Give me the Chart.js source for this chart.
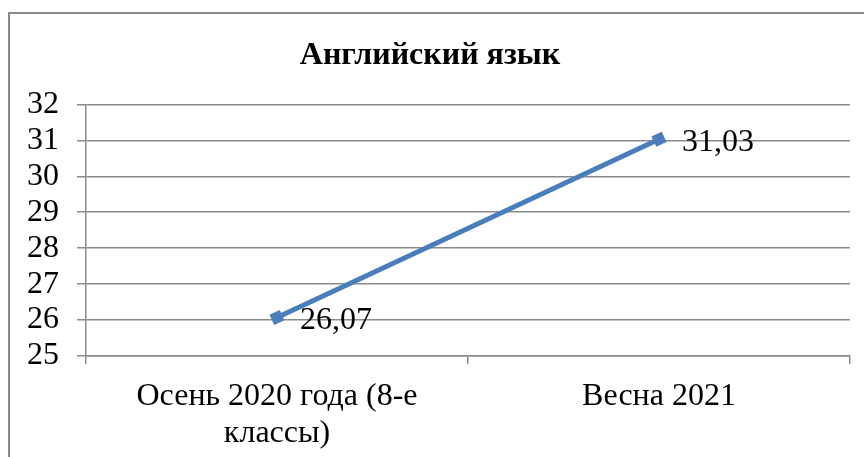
<!DOCTYPE html>
<html>
<head>
<meta charset="utf-8">
<script src="https://cdn.jsdelivr.net/npm/chart.js@4/dist/chart.umd.min.js"></script>
<style>
  html, body { margin: 0; padding: 0; background: #fff; }
  #wrap { position: relative; width: 864px; height: 457px; overflow: hidden; }
  #frame { position: absolute; left: 8px; top: 12px; width: 900px; height: 500px;
           border: 2px solid #8a8a8a; box-sizing: border-box; pointer-events: none; }
  canvas { position: absolute; left: 0; top: 0; }
</style>
</head>
<body>
<div id="wrap">
  <canvas id="c" width="864" height="457"></canvas>
  <div id="frame"></div>
</div>
<script>
const categories = [["Осень 2020 года (8-е", "классы)"], "Весна 2021"];
const values = [26.07, 31.03];
const valueLabels = ["26,07", "31,03"];
const yMin = 25, yMax = 32, yStep = 1;
const titleText = "Английский язык";

const FONT = "'Liberation Serif', 'Times New Roman', serif";

const labelPlugin = {
  id: 'valueLabels',
  afterDatasetsDraw(chart) {
    const ctx = chart.ctx;
    const meta = chart.getDatasetMeta(0);
    ctx.save();
    ctx.font = "32px " + FONT;
    ctx.fillStyle = "#000";
    ctx.textAlign = "left";
    ctx.textBaseline = "middle";
    meta.data.forEach((pt, i) => {
      ctx.fillText(valueLabels[i], pt.x + 23, pt.y + 3);
    });
    ctx.restore();
  }
};

new Chart(document.getElementById('c'), {
  type: 'line',
  data: {
    labels: categories,
    datasets: [{
      data: values,
      borderColor: '#4a7ebb',
      backgroundColor: '#4a7ebb',
      borderWidth: 5,
      pointStyle: 'rect',
      pointRadius: 8,
      pointRotation: -25,
      pointBorderWidth: 0,
      tension: 0
    }]
  },
  options: {
    responsive: false,
    animation: false,
    devicePixelRatio: 1,
    layout: { padding: { left: 10, right: 14, top: 0, bottom: 0 } },
    plugins: {
      legend: { display: false },
      tooltip: { enabled: false },
      title: {
        display: true,
        text: titleText,
        color: '#000',
        font: { family: FONT, size: 32, weight: 'bold' },
        padding: { top: 37, bottom: 29 }
      }
    },
    scales: {
      x: {
        offset: true,
        grid: { offset: true, drawOnChartArea: false, drawTicks: true, tickLength: 8,
                color: '#8a8a8a', lineWidth: 1.5 },
        border: { display: true, color: '#8a8a8a', width: 1.5 },
        ticks: { color: '#000', font: { family: FONT, size: 32, lineHeight: 1.15 }, padding: 14, maxRotation: 0,
                 autoSkip: false },
        afterFit(scale) { scale.height = 101; }
      },
      y: {
        min: yMin, max: yMax,
        grid: { color: '#8a8a8a', lineWidth: 1.5, tickLength: 9 },
        border: { display: true, color: '#8a8a8a', width: 1.5 },
        ticks: { stepSize: yStep, autoSkip: false, color: '#000', font: { family: FONT, size: 32 }, padding: 18 },
        afterFit(scale) { scale.width = 76; }
      }
    }
  },
  plugins: [labelPlugin]
});
</script>
</body>
</html>
